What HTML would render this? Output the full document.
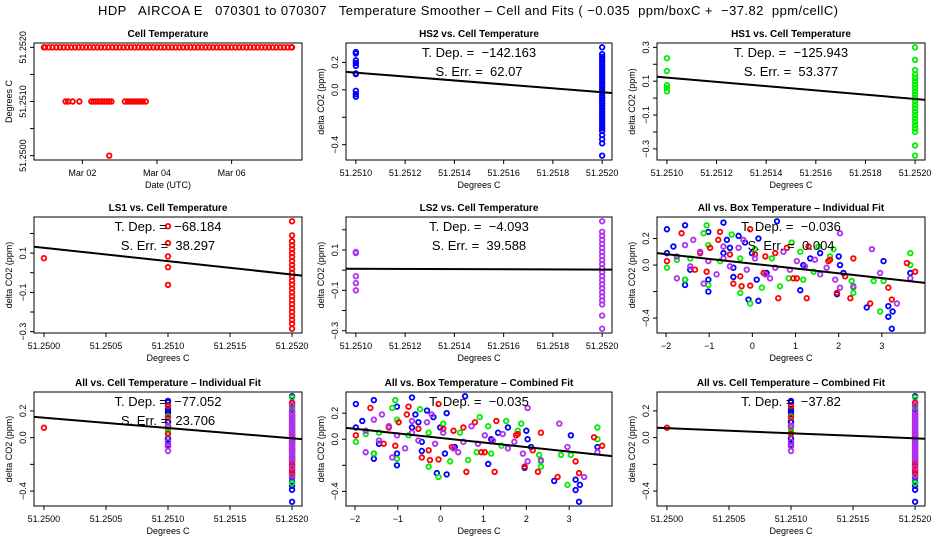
<!DOCTYPE html>
<html><head><meta charset="utf-8">
<style>
html,body{margin:0;padding:0;background:#fff;}
svg{display:block;font-family:"Liberation Sans",Arial,sans-serif;}
svg text{white-space:pre;}
</style></head>
<body>
<svg id="chart" width="936" height="540" viewBox="0 0 936 540">
<text x="468" y="15" text-anchor="middle" font-size="13" textLength="740" lengthAdjust="spacing">HDP   AIRCOA E   070301 to 070307   Temperature Smoother – Cell and Fits ( −0.035  ppm/boxC +  −37.82  ppm/cellC)</text>
</svg>
<script>
// ---- Cell temperature time series (days of March 2007, Degrees C)
const cellTime = [0.97,1.0,1.1,1.2,1.3,1.4,1.5,1.6,1.7,1.8,1.9,2.0,2.1,2.2,2.3,2.4,2.5,2.6,2.7,2.8,2.9,3.0,3.1,3.2,3.3,3.4,3.5,3.6,3.7,3.8,3.9,4.0,4.1,4.2,4.3,4.4,4.5,4.6,4.7,4.8,4.9,5.0,5.1,5.2,5.3,5.4,5.5,5.6,5.7,5.8,5.9,6.0,6.1,6.2,6.3,6.4,6.5,6.6,6.7,6.8,6.9,7.0,7.1,7.2,7.3,7.4,7.5,7.6,7.62,
 1.55,1.62,1.74,1.92,2.24,2.30,2.36,2.42,2.48,2.54,2.60,2.66,2.72,2.78,3.14,3.22,3.30,3.38,3.46,3.54,3.62,3.70,
 2.72];
const cellTemp = [51.2520,51.2520,51.2520,51.2520,51.2520,51.2520,51.2520,51.2520,51.2520,51.2520,51.2520,51.2520,51.2520,51.2520,51.2520,51.2520,51.2520,51.2520,51.2520,51.2520,51.2520,51.2520,51.2520,51.2520,51.2520,51.2520,51.2520,51.2520,51.2520,51.2520,51.2520,51.2520,51.2520,51.2520,51.2520,51.2520,51.2520,51.2520,51.2520,51.2520,51.2520,51.2520,51.2520,51.2520,51.2520,51.2520,51.2520,51.2520,51.2520,51.2520,51.2520,51.2520,51.2520,51.2520,51.2520,51.2520,51.2520,51.2520,51.2520,51.2520,51.2520,51.2520,51.2520,51.2520,51.2520,51.2520,51.2520,51.2520,51.2520,
 51.2510,51.2510,51.2510,51.2510,51.2510,51.2510,51.2510,51.2510,51.2510,51.2510,51.2510,51.2510,51.2510,51.2510,51.2510,51.2510,51.2510,51.2510,51.2510,51.2510,51.2510,51.2510,
 51.2500];
const dateTicks = [2,4,6];
const dateLabels = ["Mar 02","Mar 04","Mar 06"];

// ---- delta CO2 (ppm) grouped by cell temperature level
const cellLevels = [51.2500, 51.2510, 51.2520];
const hs2At2510 = [0.275,0.265,0.215,0.195,0.175,0.12,0.115,-0.007,-0.032,-0.05];
const hs2At2520 = [0.31,0.26,0.24,0.22,0.2,0.18,0.16,0.14,0.12,0.1,0.08,0.06,0.04,0.02,0,-0.02,-0.04,-0.06,-0.08,-0.1,-0.12,-0.14,-0.16,-0.18,-0.2,-0.22,-0.24,-0.26,-0.28,-0.3,-0.33,-0.36,-0.39,-0.48];
const hs1At2510 = [0.236,0.16,0.076,0.06,0.04];
const hs1At2520 = [0.3,0.226,0.166,0.14,0.12,0.1,0.08,0.06,0.04,0.02,0,-0.02,-0.04,-0.06,-0.08,-0.1,-0.12,-0.14,-0.16,-0.18,-0.2,-0.28,-0.34];
const ls1At2500 = [0.074];
const ls1At2510 = [0.237,0.151,0.083,0.028,-0.062];
const ls1At2520 = [0.262,0.19,0.16,0.14,0.12,0.1,0.08,0.06,0.04,0.02,0,-0.02,-0.04,-0.06,-0.08,-0.1,-0.12,-0.14,-0.16,-0.18,-0.2,-0.22,-0.24,-0.26,-0.285];
const ls2At2510 = [0.09,0.085,-0.03,-0.064,-0.1];
const ls2At2520 = [0.242,0.19,0.17,0.15,0.13,0.11,0.09,0.07,0.05,0.03,0.01,-0.01,-0.03,-0.05,-0.07,-0.09,-0.11,-0.13,-0.15,-0.17,-0.225,-0.29];

// ---- delta CO2 vs box temperature (deg C)
const boxBlueX = [-1.98,-1.56,-1.02,-0.67,0.57,0.14,-1.98,-1.83,-1.56,-1.56,-1.02,-1.44,-0.44,-1.02,-0.59,-0.52,-0.32,-0.17,-0.01,-0.09,0.14,0.10,0.33,1.11,1.34,1.57,2.0,2.03,1.96,2.65,3.04,3.15,3.15,3.25,3.23,3.66,2.11,1.18,-0.67,-0.44];
const boxBlueY = [0.27,0.30,0.25,0.32,0.33,0.20,0.09,0.14,-0.15,-0.11,-0.20,-0.035,-0.02,-0.11,0.19,0.13,0.22,0.17,0.09,-0.26,-0.27,-0.11,-0.06,-0.19,0.05,0.09,0.065,0.0,-0.22,-0.32,0.03,-0.39,-0.31,-0.35,-0.48,-0.06,-0.06,0.0,0.09,-0.09];
const boxGreenX = [-1.06,-1.13,-1.98,-1.56,-1.02,-0.28,-0.05,0.22,0.64,0.84,0.91,1.11,1.53,1.88,2.30,2.34,2.81,2.96,3.04,3.66,3.66,-1.02,-0.48,-0.75,-0.28,-1.44,-1.75,0.45,1.80,1.42,1.18,0.06,2.34];
const boxGreenY = [0.30,0.24,-0.02,-0.11,-0.15,-0.21,-0.29,-0.17,-0.16,-0.10,0.17,0.10,0.14,0.12,-0.12,-0.21,-0.12,-0.35,-0.12,0.09,0.0,0.15,0.23,0.03,0.05,0.05,0.04,0.05,0.065,-0.05,-0.11,0.12,-0.17];
const boxRedX = [-1.98,-1.64,-1.06,-0.79,-0.75,-0.98,-1.33,-0.44,-0.25,-0.05,-0.05,0.30,0.53,0.80,0.95,1.03,1.26,1.30,1.76,1.80,1.96,2.15,2.27,2.34,2.73,3.15,3.23,3.58,3.77,0.60,0.06,-1.21,-0.52,-0.28,0.26];
const boxRedY = [0.03,0.24,-0.05,0.19,0.25,0.13,-0.035,-0.14,-0.16,-0.155,0.27,0.065,0.09,0.13,-0.10,-0.10,-0.25,0.14,0.03,0.04,-0.21,-0.085,-0.25,0.05,-0.29,-0.17,-0.26,0.015,-0.05,-0.25,0.08,0.09,0.08,-0.085,-0.06];
const boxPurpleX = [-1.75,-1.56,-1.44,-1.21,-1.02,-0.83,-0.67,-0.52,-0.32,-0.13,0.06,0.30,0.53,0.72,1.03,1.22,1.57,1.72,2.03,2.03,2.34,2.77,2.96,3.35,3.66,-1.75,-1.13,-0.67,-0.21,0.41,0.87,1.45,1.92,-1.37];
const boxPurpleY = [0.065,0.15,-0.01,0.10,0.03,-0.07,0.05,-0.01,0.13,-0.035,0.05,-0.07,-0.02,0.10,0.03,-0.01,-0.07,-0.02,0.24,-0.17,-0.16,0.12,-0.06,-0.29,-0.10,-0.10,-0.14,0.14,0.19,-0.10,-0.035,0.04,-0.11,0.19];

// ---- fits: slope and anchor point
const fitSlopes = [-142.163, -125.943, -68.184, -4.093, -0.036, -77.052, -0.035, -37.82];
const fitAnchorX = [51.2515, 51.2515, 51.2510, 51.2515, 0, 51.2520, 0, 51.2520];
const fitAnchorY = [0.054, 0.058, 0.059, 0.005, 0.01, -0.005, 0.01, -0.005];

const cellTicks5 = [51.2510,51.2512,51.2514,51.2516,51.2518,51.2520];
const cellLabels5 = ["51.2510","51.2512","51.2514","51.2516","51.2518","51.2520"];
const cellTicks4 = [51.2500,51.2505,51.2510,51.2515,51.2520];
const cellLabels4 = ["51.2500","51.2505","51.2510","51.2515","51.2520"];
const boxTicks = [-2,-1,0,1,2,3];
const boxLabels = ["−2","−1","0","1","2","3"];
const yTicksA = [-0.4,-0.2,0,0.2];
const yLabelsA = ["−0.4","","0.0","0.2"];
const yTicksB = [-0.3,-0.2,-0.1,0,0.1,0.2,0.3];
const yLabelsB = ["−0.3","","−0.1","","0.1","","0.3"];
const yTicksC = [-0.3,-0.2,-0.1,0,0.1,0.2];
const yLabelsC = ["−0.3","","−0.1","","0.1",""];
const tempTicks = [51.2500,51.2505,51.2510,51.2515,51.2520];
const tempLabels = ["51.2500","","51.2510","","51.2520"];

const BLUE="#0000ff", GREEN="#00ee00", RED="#ff0000", PURPLE="#b030f0";
const svg = document.getElementById('chart');
const NS = "http://www.w3.org/2000/svg";
function mk(tag, attrs, parent){
  const e = document.createElementNS(NS, tag);
  for (const k in attrs) e.setAttribute(k, attrs[k]);
  (parent||svg).appendChild(e);
  return e;
}
function seriesFromLevels(groups){
  const xs=[], ys=[];
  groups.forEach(g=>{ g[1].forEach(v=>{ xs.push(cellLevels[g[0]]); ys.push(v); }); });
  return {x:xs, y:ys};
}
const hs2 = seriesFromLevels([[1,hs2At2510],[2,hs2At2520]]);
const hs1 = seriesFromLevels([[1,hs1At2510],[2,hs1At2520]]);
const ls1 = seriesFromLevels([[0,ls1At2500],[1,ls1At2510],[2,ls1At2520]]);
const ls2 = seriesFromLevels([[1,ls2At2510],[2,ls2At2520]]);

const cols = [[34,302],[346,612],[657,925]];
const rows = [[43,160],[217,333],[392,506]];

function ext(arrs){ let mn=Infinity,mx=-Infinity; arrs.forEach(a=>a.forEach(v=>{if(v<mn)mn=v;if(v>mx)mx=v;})); const r=mx-mn; return [mn-0.04*r, mx+0.04*r]; }

function panel(c){
  const g = mk('g', {});
  
  
  const [x0,x1]=cols[c.col], [y0,y1]=rows[c.row];
  const xd = ext(c.series.map(s=>s.x)), yd = ext(c.series.map(s=>s.y));
  const sx = v => x0 + (v-xd[0])/(xd[1]-xd[0])*(x1-x0);
  const sy = v => y1 - (v-yd[0])/(yd[1]-yd[0])*(y1-y0);
  const box = mk('rect', {x:x0,y:y0,width:x1-x0,height:y1-y0,fill:'none',stroke:'#000','stroke-width':1}, g);
  
  
  const t = mk('text', {x:(x0+x1)/2, y:y0-6, 'text-anchor':'middle','font-size':10,'font-weight':'bold'}, g);
  
  
  t.textContent = c.title;
  const xa = mk('g', {}, g);
  
  
  mk('line',{x1:sx(c.xt[0]),x2:sx(c.xt[c.xt.length-1]),y1:y1,y2:y1,stroke:'#000'},xa);
  c.xt.forEach((v,i)=>{
    mk('line',{x1:sx(v),x2:sx(v),y1:y1,y2:y1+4,stroke:'#000'},xa);
    const l = mk('text',{x:sx(v),y:y1+16,'text-anchor':'middle','font-size':9},xa);
    
    
    l.textContent = c.xl[i];
  });
  const xt = mk('text',{x:(x0+x1)/2,y:y1+28,'text-anchor':'middle','font-size':9},g);
  
  
  xt.textContent = c.xtitle;
  const ya = mk('g', {}, g);
  
  
  mk('line',{x1:x0,x2:x0,y1:sy(c.yt[0]),y2:sy(c.yt[c.yt.length-1]),stroke:'#000'},ya);
  c.yt.forEach((v,i)=>{
    mk('line',{x1:x0-4,x2:x0,y1:sy(v),y2:sy(v),stroke:'#000'},ya);
    if(!c.yl[i]) return;
    const l = mk('text',{x:0,y:0,'text-anchor':'middle','font-size':9,transform:`translate(${x0-8},${sy(v)}) rotate(-90)`},ya);
    
    
    l.textContent = c.yl[i];
  });
  const yt = mk('text',{x:0,y:0,'text-anchor':'middle','font-size':9,transform:`translate(${x0-22},${(y0+y1)/2}) rotate(-90)`},g);
  
  
  yt.textContent = c.ytitle;
  c.series.forEach(s=>{
    const sg = mk('g',{}, g);
    
    
    s.x.forEach((xv,i)=>{
      const p = mk('circle',{cx:sx(xv),cy:sy(s.y[i]),r:2.3,fill:'none',stroke:s.color,'stroke-width':1.8},sg);
      
      
    });
  });
  if (c.fit !== undefined){
    const k=c.fit, m=fitSlopes[k], ax=fitAnchorX[k], ay=fitAnchorY[k];
    const f = v => ay + m*(v-ax);
    const fl = mk('line',{x1:x0,x2:x1,y1:sy(f(xd[0])),y2:sy(f(xd[1])),stroke:'#000','stroke-width':2},g);
    
    
  }
  (c.annot||[]).forEach((s,i)=>{
    const a = mk('text',{x:(x0+x1)/2,y:y0+14+i*19,'text-anchor':'middle','font-size':13},g);
    
    
    a.textContent = s;
  });
}

panel({name:'cell-temperature-panel',col:0,row:0,title:'Cell Temperature',xtitle:'Date (UTC)',ytitle:'Degrees C',
  series:[{name:'cell-temperature-series',x:cellTime,y:cellTemp,color:RED}],xt:dateTicks,xl:dateLabels,yt:tempTicks,yl:tempLabels});
panel({name:'hs2-panel',col:1,row:0,title:'HS2 vs. Cell Temperature',xtitle:'Degrees C',ytitle:'delta CO2 (ppm)',
  series:[{name:'hs2-series',x:hs2.x,y:hs2.y,color:BLUE}],xt:cellTicks5,xl:cellLabels5,yt:yTicksA,yl:yLabelsA,fit:0,
  annot:['T. Dep. =  −142.163','S. Err. =  62.07']});
panel({name:'hs1-panel',col:2,row:0,title:'HS1 vs. Cell Temperature',xtitle:'Degrees C',ytitle:'delta CO2 (ppm)',
  series:[{name:'hs1-series',x:hs1.x,y:hs1.y,color:GREEN}],xt:cellTicks5,xl:cellLabels5,yt:yTicksB,yl:yLabelsB,fit:1,
  annot:['T. Dep. =  −125.943','S. Err. =  53.377']});
panel({name:'ls1-panel',col:0,row:1,title:'LS1 vs. Cell Temperature',xtitle:'Degrees C',ytitle:'delta CO2 (ppm)',
  series:[{name:'ls1-series',x:ls1.x,y:ls1.y,color:RED}],xt:cellTicks4,xl:cellLabels4,yt:yTicksC,yl:yLabelsC,fit:2,
  annot:['T. Dep. =  −68.184','S. Err. =  38.297']});
panel({name:'ls2-panel',col:1,row:1,title:'LS2 vs. Cell Temperature',xtitle:'Degrees C',ytitle:'delta CO2 (ppm)',
  series:[{name:'ls2-series',x:ls2.x,y:ls2.y,color:PURPLE}],xt:cellTicks5,xl:cellLabels5,yt:yTicksC,yl:yLabelsC,fit:3,
  annot:['T. Dep. =  −4.093','S. Err. =  39.588']});
const boxSeries = [
  {name:'hs2-box-series',x:boxBlueX,y:boxBlueY,color:BLUE},
  {name:'hs1-box-series',x:boxGreenX,y:boxGreenY,color:GREEN},
  {name:'ls1-box-series',x:boxRedX,y:boxRedY,color:RED},
  {name:'ls2-box-series',x:boxPurpleX,y:boxPurpleY,color:PURPLE}];
const cellSeries = [
  {name:'hs2-cell-series',x:hs2.x,y:hs2.y,color:BLUE},
  {name:'hs1-cell-series',x:hs1.x,y:hs1.y,color:GREEN},
  {name:'ls1-cell-series',x:ls1.x,y:ls1.y,color:RED},
  {name:'ls2-cell-series',x:ls2.x,y:ls2.y,color:PURPLE}];
panel({name:'all-box-individual-panel',col:2,row:1,title:'All vs. Box Temperature – Individual Fit',xtitle:'Degrees C',ytitle:'delta CO2 (ppm)',
  series:boxSeries,xt:boxTicks,xl:boxLabels,yt:yTicksA,yl:yLabelsA,fit:4,annot:['T. Dep. =  −0.036','S. Err. =  0.004']});
panel({name:'all-cell-individual-panel',col:0,row:2,title:'All vs. Cell Temperature – Individual Fit',xtitle:'Degrees C',ytitle:'delta CO2 (ppm)',
  series:cellSeries,xt:cellTicks4,xl:cellLabels4,yt:yTicksA,yl:yLabelsA,fit:5,annot:['T. Dep. =  −77.052','S. Err. =  23.706']});
panel({name:'all-box-combined-panel',col:1,row:2,title:'All vs. Box Temperature – Combined Fit',xtitle:'Degrees C',ytitle:'delta CO2 (ppm)',
  series:boxSeries,xt:boxTicks,xl:boxLabels,yt:yTicksA,yl:yLabelsA,fit:6,annot:['T. Dep. =  −0.035']});
panel({name:'all-cell-combined-panel',col:2,row:2,title:'All vs. Cell Temperature – Combined Fit',xtitle:'Degrees C',ytitle:'delta CO2 (ppm)',
  series:cellSeries,xt:cellTicks4,xl:cellLabels4,yt:yTicksA,yl:yLabelsA,fit:7,annot:['T. Dep. =  −37.82']});
</script>
</body></html>
